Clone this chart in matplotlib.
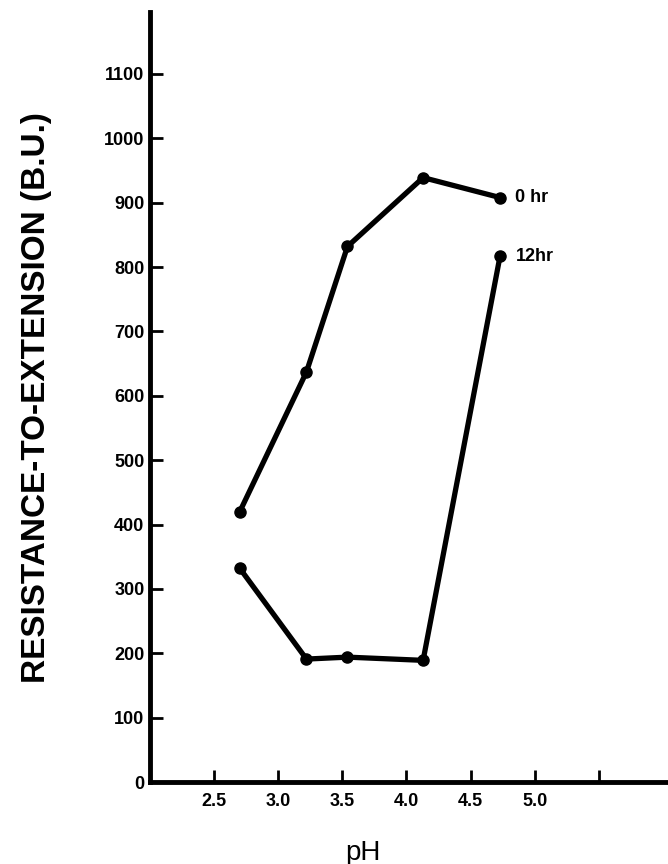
import numpy as np
from matplotlib import pyplot as plt

# data
ph_0hr = [2.70, 3.22, 3.54, 4.13, 4.73]
res_0hr = [420, 637, 832, 939, 908]
ph_12hr = [2.70, 3.22, 3.54, 4.13, 4.73]
res_12hr = [332, 191, 194, 189, 817]
xticks = [2.5, 3.0, 3.5, 4.0, 4.5, 5.0, 5.5]
xticklabels = ["2.5", "3.0", "3.5", "4.0", "4.5", "5.0", ""]
yticks = list(range(0, 1200, 100))

plt.rcParams['font.family'] = ['Liberation Sans', 'DejaVu Sans']

fig = plt.figure(figsize=(6.68, 8.64), dpi=100)
ax = fig.add_axes([0.2246, 0.0949, 0.7754, 0.891])

for x, y in [(ph_0hr, res_0hr), (ph_12hr, res_12hr)]:
    ax.plot(x, y, color='black', lw=3.8, marker='o', ms=8, solid_capstyle='round')

ax.text(4.73 + 0.12, res_0hr[-1], "0 hr", fontsize=13, fontweight='bold', va='center')
ax.text(4.73 + 0.12, res_12hr[-1], "12hr", fontsize=13, fontweight='bold', va='center')

ax.set_xlim(2.0, 6.04)
ax.set_ylim(0, 1196)
ax.spines['top'].set_visible(False)
ax.spines['right'].set_visible(False)
ax.spines['left'].set_linewidth(3.5)
ax.spines['bottom'].set_linewidth(3.5)

ax.set_xticks(xticks)
ax.set_xticklabels(xticklabels, fontsize=13, fontweight='bold')
ax.set_yticks(yticks)
ax.set_yticklabels([str(v) for v in yticks], fontsize=13, fontweight='bold')
ax.tick_params(axis='x', direction='in', length=9, width=2, pad=8)
ax.tick_params(axis='y', direction='in', length=9, width=2, pad=4)

ax.set_ylabel("RESISTANCE-TO-EXTENSION (B.U.)", fontsize=24, fontweight='bold')
ax.yaxis.set_label_coords(-0.19, 0.5)
ax.set_xlabel("pH", fontsize=20)
ax.xaxis.set_label_coords(0.41, -0.075)

fig.savefig("out.png", dpi=100)
